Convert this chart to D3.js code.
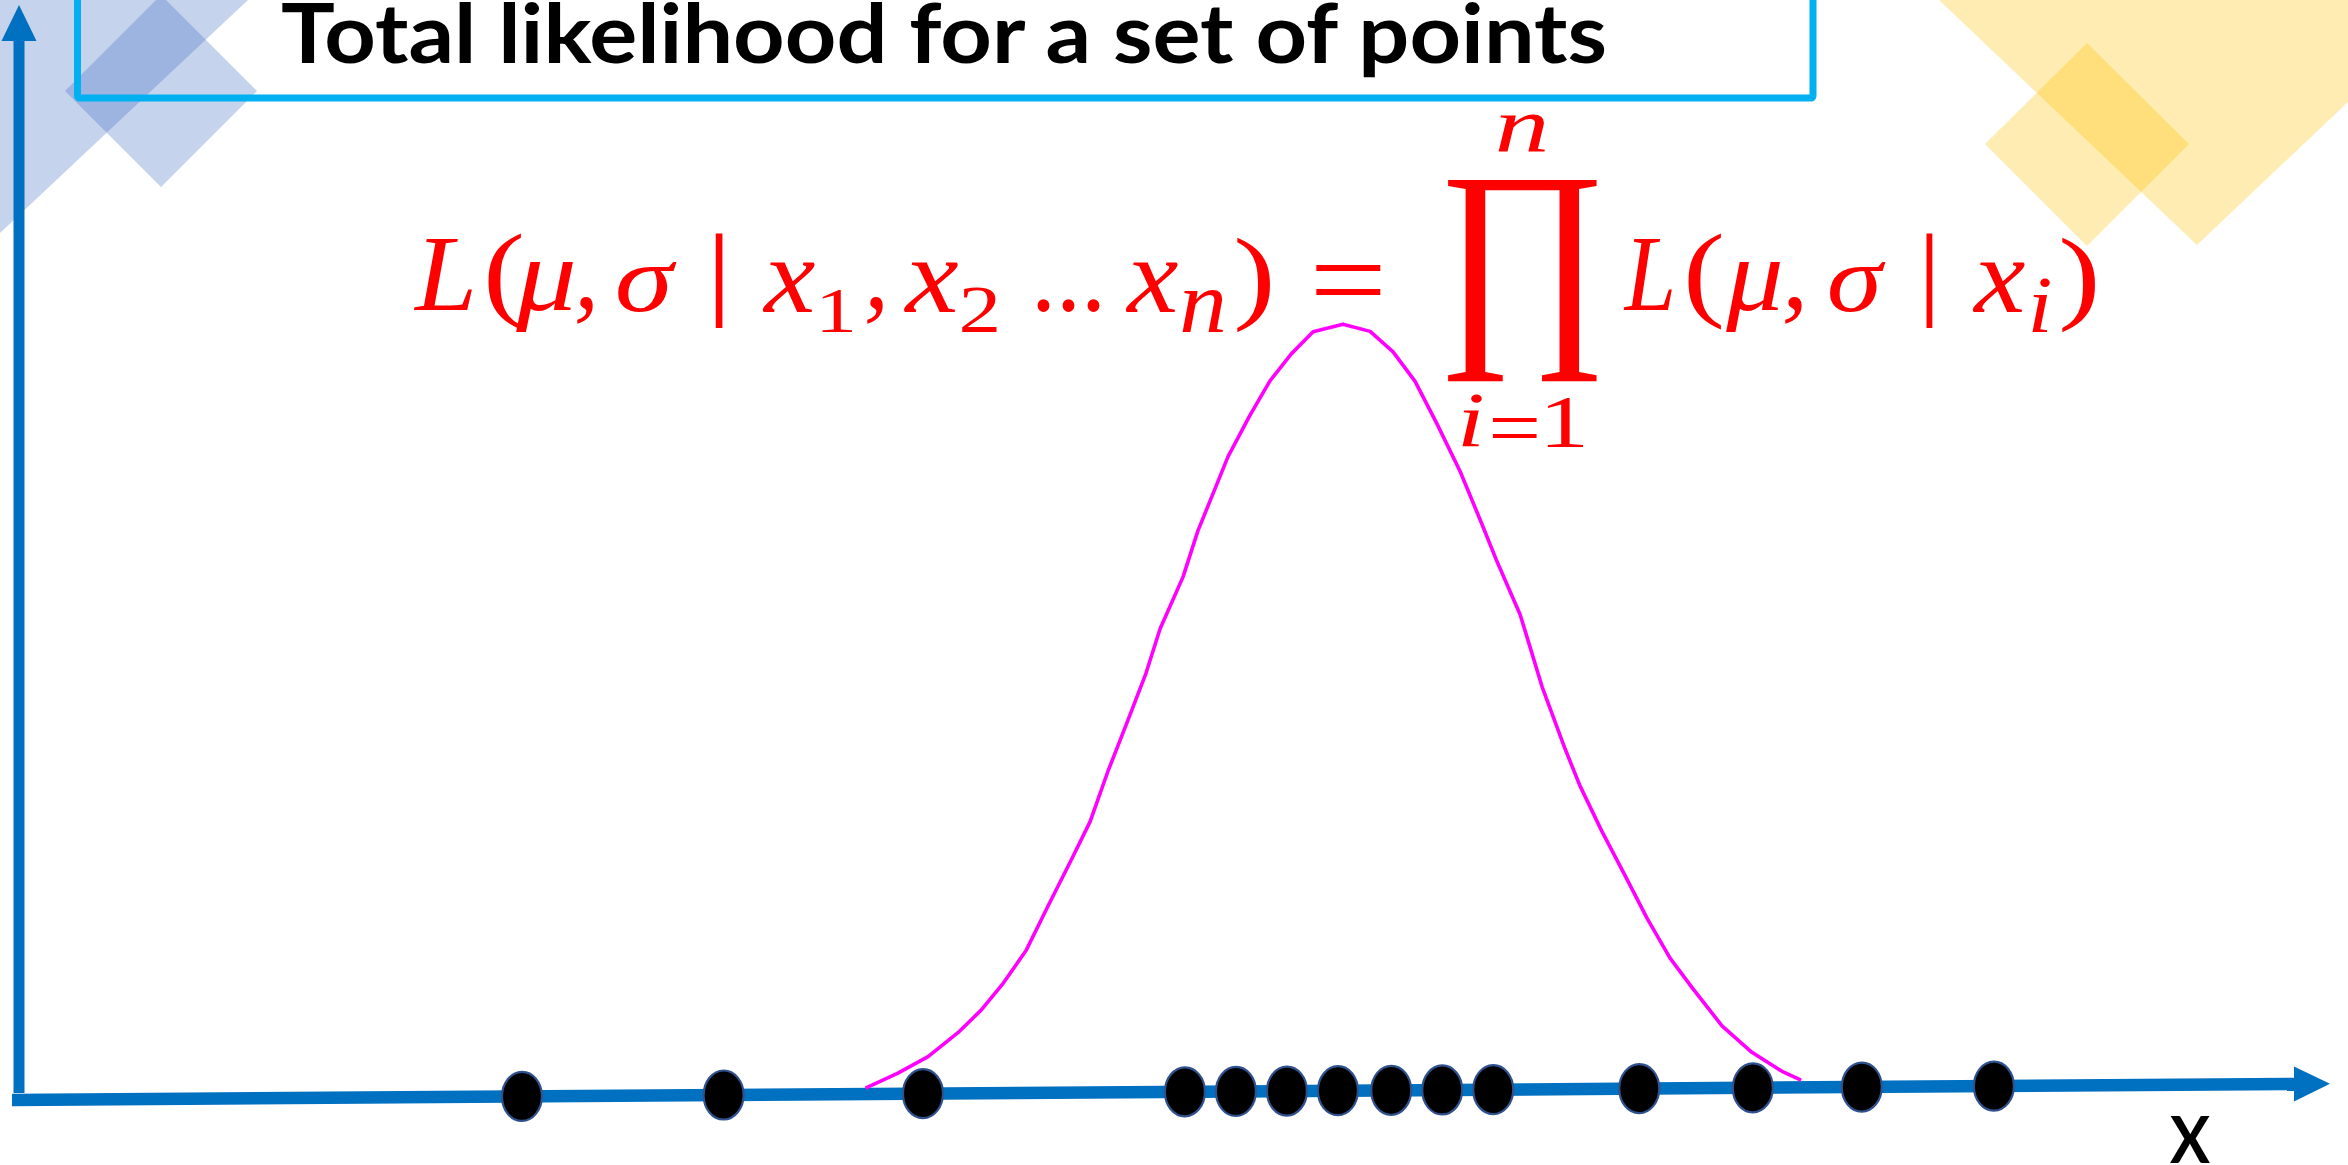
<!DOCTYPE html>
<html>
<head>
<meta charset="utf-8">
<script src="https://cdn.jsdelivr.net/npm/d3@7"></script>
<style>
  html, body { margin: 0; padding: 0; background: #fff; overflow: hidden; }
</style>
</head>
<body>
<script>
// ---- data -------------------------------------------------------------
// Observed sample values along the x axis
const sampleX = [2.20, 3.07, 3.93, 5.06, 5.28, 5.50, 5.72, 5.95, 6.17, 6.39, 7.02, 7.51, 7.98, 8.55];

// Likelihood curve traced over the samples (x, likelihood)
const curveX = [3.682, 3.822, 3.952, 4.081, 4.180, 4.275, 4.374, 4.469, 4.569, 4.651,
                4.728, 4.806, 4.892, 4.953, 5.052, 5.116, 5.194, 5.246, 5.341, 5.427,
                5.518, 5.613, 5.742, 5.859, 5.958, 6.053, 6.148, 6.247, 6.342, 6.406,
                6.506, 6.601, 6.700, 6.764, 6.859, 6.959, 7.054, 7.153, 7.248, 7.377,
                7.506, 7.636, 7.718];
const curveY = [0.004, 0.014, 0.025, 0.041, 0.056, 0.074, 0.096, 0.126, 0.157, 0.183,
                0.217, 0.248, 0.283, 0.313, 0.348, 0.379, 0.409, 0.429, 0.457, 0.480,
                0.498, 0.513, 0.518, 0.513, 0.499, 0.479, 0.450, 0.418, 0.382, 0.357,
                0.321, 0.272, 0.230, 0.205, 0.174, 0.144, 0.115, 0.088, 0.068, 0.042,
                0.024, 0.011, 0.005];

const titleText = "Total likelihood for a set of points";
const axisLabel = "X";

// ---- layout -----------------------------------------------------------
const W = 2348, H = 1165;
const RED = "#ff0000", AXIS = "#0070c0";

const svg = d3.select("body").append("svg")
  .attr("width", W).attr("height", H)
  .style("display", "block");

// Canvas used to measure the ink extent of glyphs
const ctx = document.createElement("canvas").getContext("2d");
function inkBox(text, font) {
  ctx.font = font;
  const m = ctx.measureText(text);
  return { l: -m.actualBoundingBoxLeft, r: m.actualBoundingBoxRight,
           t: -m.actualBoundingBoxAscent, b: m.actualBoundingBoxDescent };
}
// Draw text so that its ink fills the box [x0, x1, y0, y1]
function fitText(g, text, opt, box, fill) {
  const size = 100;
  const fam = opt.family, st = opt.style || "normal", wt = opt.weight || "normal";
  const k = inkBox(text, `${st} ${wt} ${size}px ${fam}`);
  const sx = (box[1] - box[0]) / (k.r - k.l);
  const sy = (box[3] - box[2]) / (k.b - k.t);
  return g.append("text")
    .attr("transform", `translate(${box[0] - k.l * sx},${box[2] - k.t * sy}) scale(${sx},${sy})`)
    .attr("font-family", fam).attr("font-size", size)
    .attr("font-style", st).attr("font-weight", wt)
    .attr("fill", fill).text(text);
}

// ---- decorative corner shapes ----------------------------------------
const deco = svg.append("g");
const blueFill = "rgba(68,114,196,0.31)", goldFill = "rgba(255,192,0,0.30)";
const shapes = [
  { pts: [[0, 0], [248, 0], [0, 233]], fill: blueFill },
  { pts: [[161, -5], [257, 91], [161, 187], [65, 91]], fill: blueFill },
  { pts: [[1939, 0], [2348, 0], [2348, 102], [2197, 245]], fill: goldFill },
  { pts: [[2087, 43], [2189, 144], [2087, 246], [1985, 144]], fill: goldFill }
];
deco.selectAll("path").data(shapes).join("path")
  .attr("d", d => "M" + d.pts.join("L") + "Z")
  .attr("fill", d => d.fill);

// ---- title box ---------------------------------------------------------
svg.append("rect")
  .attr("x", 77.5).attr("y", -60).attr("width", 1735.5).attr("height", 158)
  .attr("fill", "none").attr("stroke", "#00b0f0").attr("stroke-width", 7)
  .attr("rx", 2);

(function drawTitle() {
  const fam = "Lato", size = 100;
  const font = `normal bold ${size}px ${fam}`;
  const all = inkBox(titleText, font);
  const cap = inkBox("T", font);
  const sx = (1608 - 282) / (all.r - all.l);
  const sy = (62.7 - 3.3) / (-cap.t);
  svg.append("text")
    .attr("transform", `translate(${282 - all.l * sx},62.7) scale(${sx},${sy})`)
    .attr("font-family", fam).attr("font-size", size).attr("font-weight", "bold")
    .attr("fill", "#000").text(titleText);
})();

// ---- axes ----------------------------------------------------------------
const x = d3.scaleLinear().domain([0, 10]).range([0, 2318]);
const y = d3.scaleLinear().domain([0, 0.74]).range([0, -1095]);

// vertical axis with arrow
svg.append("line")
  .attr("x1", 19).attr("x2", 19).attr("y1", 1093).attr("y2", 38)
  .attr("stroke", AXIS).attr("stroke-width", 11);
svg.append("path")
  .attr("d", "M19,5L36.5,41L1.5,41Z").attr("fill", AXIS);

// plot frame follows the slightly tilted horizontal axis
const plot = svg.append("g")
  .attr("transform", "translate(12,1100) skewY(-0.4017)");

const tipX = x.range()[1], headLen = 36;
plot.append("line")
  .attr("x1", 0).attr("x2", tipX - headLen + 2).attr("y1", 0).attr("y2", 0)
  .attr("stroke", AXIS).attr("stroke-width", 12.5);
plot.append("path")
  .attr("d", `M${tipX},0L${tipX - headLen},-17.5L${tipX - headLen},17.5Z`)
  .attr("fill", AXIS);

// likelihood curve
const curve = curveX.map((v, i) => [v, curveY[i]]);
plot.append("path")
  .datum(curve)
  .attr("d", d3.line().x(d => x(d[0])).y(d => y(d[1])))
  .attr("fill", "none").attr("stroke", "#ff00ff")
  .attr("stroke-width", 3.6).attr("stroke-linejoin", "round");

// sample points
plot.selectAll("ellipse").data(sampleX).join("ellipse")
  .attr("cx", d => x(d)).attr("cy", y(0))
  .attr("rx", 20).attr("ry", 24.5)
  .attr("fill", "#000").attr("stroke", "#2f528f").attr("stroke-width", 2.2);

// axis label
fitText(svg, axisLabel, { family: "Lato", weight: "bold" }, [2170, 2210, 1115, 1163], "#000");

// ---- likelihood formula ------------------------------------------------
const serifIt = { family: "'Liberation Serif'", style: "italic" };
const serif = { family: "'Liberation Serif'" };
const formulaLayout = [
  ["L", serifIt, [413, 472, 240, 311]],
  ["(", serif, [488, 522, 232, 330]],
  ["\u03bc", serifIt, [515, 573, 262, 332]],
  [",", serifIt, [577, 593, 298, 325]],
  ["\u03c3", serifIt, [617, 677, 262, 312]],
  ["|", serif, [715, 723, 233, 328]],
  ["x", serifIt, [762, 815, 262, 312]],
  ["1", serif, [822, 852, 290, 332]],
  [",", serifIt, [867, 883, 298, 325]],
  ["x", serifIt, [903, 958, 262, 312]],
  ["2", serif, [962, 997, 288, 333]],
  ["...", serif, [1037, 1100, 298, 311]],
  ["x", serifIt, [1125, 1178, 262, 312]],
  ["n", serifIt, [1182, 1223, 290, 333]],
  [")", serif, [1237, 1270, 237, 333]],
  ["=", serif, [1315, 1381, 265, 295]],
  ["\u220f", serif, [1447, 1597, 179, 383]],
  ["n", serifIt, [1498, 1545, 115, 153]],
  ["i", serifIt, [1462, 1482, 395, 447]],
  ["=", serif, [1492, 1537, 418, 438]],
  ["1", serif, [1547, 1583, 398, 447]],
  ["L", serifIt, [1623, 1672, 240, 311]],
  ["(", serif, [1688, 1722, 232, 330]],
  ["\u03bc", serifIt, [1725, 1780, 262, 332]],
  [",", serifIt, [1785, 1802, 298, 325]],
  ["\u03c3", serifIt, [1829, 1886, 262, 312]],
  ["|", serif, [1926, 1933, 233, 328]],
  ["x", serifIt, [1972, 2025, 262, 312]],
  ["i", serifIt, [2032, 2050, 279, 333]],
  [")", serif, [2062, 2095, 237, 333]]
];
const formula = svg.append("g");
formulaLayout.forEach(([t, opt, box]) => fitText(formula, t, opt, box, RED));
</script>
</body>
</html>
